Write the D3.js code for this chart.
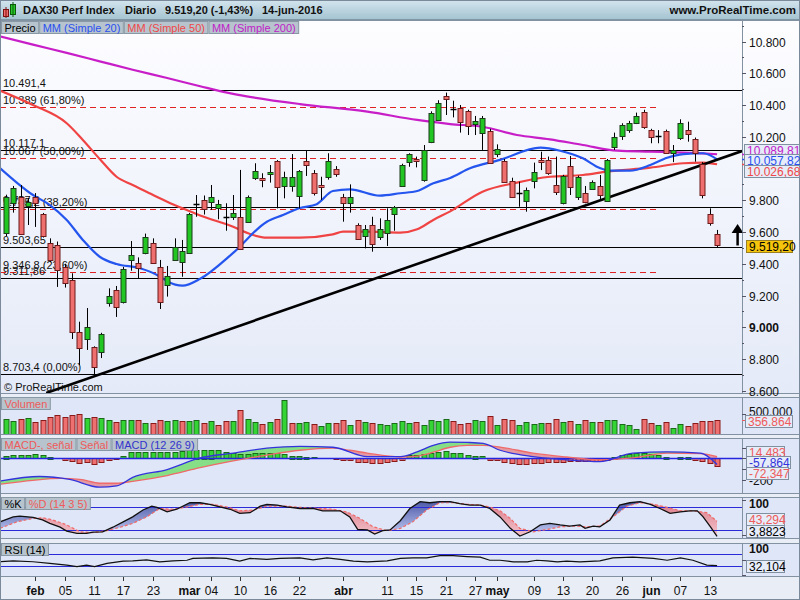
<!DOCTYPE html>
<html><head><meta charset="utf-8">
<script src="https://cdn.jsdelivr.net/npm/d3@7"></script>
<style>body{margin:0;background:#fff}svg{display:block;font-family:"Liberation Sans",Arial,sans-serif}</style>
</head><body><svg id="c" width="800" height="600"></svg>
<script>
// ---------------- DATA ----------------
const open = [9594,9783,9819,9764,9822,9713,9533,9518,9380,9300,8970,8926,8876,8844,9153,9235,9159,9424,9407,9470,9530,9380,9266,9424,9413,9470,9772,9802,9791,9753,9692,9694,9694,9665,9942,9938,9966,10047,9890,9886,9829,10047,9970,9894,9945,9997,9822,9783,9644,9570,9644,9564,9592,9711,9890,10037,10059,9926,10165,10306,10457,10371,10379,10362,10278,10222,10236,10091,10047,9921,9844,9797,9923,10053,10053,9896,9785,10015,9822,9844,9875,9890,9797,10137,10205,10247,10289,10354,10242,10198,10236,10100,10190,10242,10185,10028,9713,9587];
const high = [9835,9890,9896,9814,9845,9720,9560,9540,9400,9340,9035,9121,8880,8965,9245,9260,9380,9543,9440,9590,9560,9424,9386,9560,9550,9720,9833,9830,9896,9802,9781,9833,9991,9830,10033,9970,10022,10053,9980,10091,9990,10112,9990,9948,10096,10015,9840,9900,9655,9644,9696,9686,9749,9764,10030,10096,10075,10148,10360,10430,10478,10427,10400,10370,10331,10331,10250,10152,10060,9942,9917,9880,10037,10106,10075,10075,9960,10079,9955,9890,9925,9959,10060,10226,10285,10300,10352,10370,10250,10242,10245,10148,10310,10295,10195,10040,9749,9613];
const low = [9575,9722,9585,9644,9632,9565,9410,9254,9250,8926,8762,8857,8703,8806,9130,9065,9150,9356,9310,9460,9400,9115,9193,9424,9318,9465,9696,9710,9739,9680,9608,9676,9490,9660,9928,9882,9911,9749,9812,9854,9749,9953,9830,9802,9930,9948,9665,9722,9550,9497,9476,9550,9512,9608,9885,10011,10007,9917,10160,10300,10337,10322,10226,10211,10211,10117,10030,10071,9910,9815,9759,9728,9875,9990,9960,9833,9774,9833,9802,9781,9865,9802,9790,10117,10180,10225,10280,10250,10159,10159,10095,10040,10180,10169,10043,9812,9640,9505];
const close = [9822,9877,9588,9791,9785,9575,9424,9360,9279,8972,8869,9002,8752,8957,9197,9128,9367,9455,9373,9570,9405,9160,9322,9505,9482,9713,9778,9743,9822,9776,9688,9719,9493,9822,9984,9923,9978,9886,9946,9944,9984,10022,9844,9882,10047,9963,9787,9820,9554,9617,9522,9617,9676,9756,10022,10090,10044,10117,10348,10415,10436,10373,10289,10268,10299,10316,10037,10121,9917,9822,9846,9865,9980,10043,9970,9854,9952,9882,9948,9785,9917,9833,10053,10200,10274,10289,10331,10260,10200,10203,10100,10117,10285,10215,10096,9833,9657,9519.20];
// volume in thousands
const volume = [373,333,373,397,301,349,420,468,420,476,492,397,436,397,349,301,349,349,349,286,278,349,333,349,325,325,349,278,325,230,325,325,587,373,301,254,301,373,825,278,294,301,254,206,278,278,349,230,349,301,278,254,246,278,341,278,301,230,349,325,373,325,254,278,349,325,452,230,373,349,230,301,254,278,278,373,301,325,254,349,301,301,349,349,254,230,135,373,278,230,301,159,254,206,278,325,325,356.864];
// MACD histogram (MACD - signal)
const macdHist = [24,30,30,30,36,30,15,0,-15,-30,-51,-39,-60,-39,-21,-9,21,60,60,60,60,60,60,60,66,75,81,81,81,75,60,51,36,36,45,51,45,45,39,24,24,15,9,0,0,-9,-15,-15,-39,-39,-51,-51,-39,-30,-15,30,30,36,51,60,66,51,45,30,24,21,-15,-15,-39,-51,-60,-60,-51,-45,-39,-39,-39,-30,-24,-30,-24,-24,-15,15,30,39,45,45,36,30,15,0,15,15,-15,-30,-51,-72.347];
// line series: [candle index, value]
const ma20 = [[-0.8,10003],[3.7,9833],[6,9770],[8.3,9676],[10.5,9550],[12.8,9444],[15.1,9398],[18.3,9372],[21,9320],[22,9290],[24.1,9262],[26.5,9305],[31,9468],[35.6,9665],[37.8,9707],[40.1,9751],[42.4,9775],[44.6,9858],[46.9,9869],[51,9829],[53.8,9844],[56.1,9858],[58.3,9907],[60.6,9940],[63.3,10001],[67.4,10054],[72.9,10131],[75.6,10112],[78.7,10064],[81,10003],[82.4,9986],[85.1,9986],[87.9,10022],[90.2,10068],[92.4,10091],[95.1,10096],[97,10057.82]];
const ma50 = [[-0.8,10491],[3.7,10400],[8.3,10285],[10.5,10180],[12.8,10060],[15.1,9948],[17.3,9896],[19.6,9844],[22,9791],[24.1,9749],[26.5,9704],[31,9633],[33.3,9587],[35.6,9564],[40.1,9564],[44.6,9585],[46,9602],[49.3,9602],[53.8,9596],[56.1,9617],[58.3,9676],[60.6,9730],[65,9854],[69.7,9911],[74.2,9948],[78.7,9959],[82,9980],[87.9,10005],[92.4,10033],[95.1,10037],[97,10026.68]];
const ma200 = [[-0.8,10833],[3.7,10780],[8.3,10728],[12.8,10675],[17.3,10622],[22,10570],[26.5,10518],[31,10470],[33.7,10448],[40.1,10406],[49.3,10358],[56.1,10306],[60.6,10280],[65,10263],[69.7,10211],[74.2,10184],[78.7,10148],[83.4,10112],[87.9,10106],[92.4,10100],[97,10089.81]];
const macdLine = [[-0.8,-213],[4.6,-170],[8.7,-197],[12.8,-270],[15.1,-258],[17.3,-179],[22,-106],[26.5,3],[31,48],[35.6,94],[40.1,112],[44.6,103],[49.3,15],[53.8,15],[56.1,60],[58.3,121],[60.6,151],[62.9,148],[65.1,139],[67.4,75],[71.9,15],[76.5,-15],[81,-31],[85.5,48],[90.2,60],[94.7,48],[97,-57.864]];
const signalLine = [[-0.8,-243],[3.7,-206],[7.4,-188],[10.1,-197],[12.8,-233],[15.1,-233],[17.3,-215],[22,-161],[26.5,-88],[31,-25],[35.6,30],[40.1,75],[44.6,94],[46.9,75],[49.3,48],[53.8,12],[56.1,21],[58.3,57],[60.6,103],[62.9,121],[65.1,121],[67.4,105],[71.9,48],[76.5,12],[81,-15],[85.5,3],[90.2,48],[94.7,44],[97,14.483]];
const stoK = [[-0.8,42],[1,55],[1.9,57],[3.7,54],[5,47],[6,38],[7.4,28],[8.3,18],[9.7,12],[11,12],[11.9,15],[13.2,16],[14.6,28],[16,42],[17.3,55],[18.7,73],[19.9,83],[20.6,80],[22,68],[23.3,75],[25.1,92],[26.5,92],[27.8,88],[29.2,81],[30.6,75],[31.9,64],[33.3,66],[34.7,83],[35.6,88],[37,86],[38.3,81],[40.1,77],[41.9,77],[43.2,71],[45.6,71],[46.9,55],[48,22],[49.3,21],[50.3,10],[51.4,19],[52.4,21],[53.8,45],[55.1,77],[56.5,95],[57.8,92],[59.2,95],[60.6,95],[61.9,90],[63.3,86],[64.7,86],[66,77],[67.4,55],[68.8,25],[70.1,5],[71.5,16],[72.9,34],[74.2,38],[75.6,34],[76.9,31],[78.3,34],[79,25],[80.1,31],[81,29],[82.4,47],[83.7,86],[85.1,92],[86.5,95],[87.9,88],[89.2,77],[90.6,64],[92,68],[93.3,71],[94.3,71],[95.1,55],[96.1,29],[97,3.8823]];
const stoD = [[-0.8,25],[1.5,42],[3.7,51],[5,53],[6.4,47],[8.3,34],[10.1,16],[11.9,14],[13.8,19],[15.6,28],[17.3,38],[19.2,55],[21,77],[22.8,75],[24.7,81],[26.5,88],[28.2,88],[30.1,81],[31.9,71],[33.7,73],[35.6,83],[38.3,83],[40.1,80],[42.8,77],[44.6,75],[46.5,68],[48.3,51],[50.1,29],[52,19],[53.8,25],[55.5,42],[57.4,73],[59.2,92],[61,92],[62.9,88],[64.7,86],[66,81],[67.4,71],[68.8,51],[70.1,25],[71.9,16],[73.8,22],[75.6,29],[77.4,31],[79.3,29],[81,31],[82.8,55],[84.7,83],[86.5,92],[88.3,88],[90.2,80],[92,71],[93.7,71],[95.6,66],[97,43.294]];
const rsi = [[-0.8,45],[1,48],[3.7,45],[6,40],[8.3,34],[9.7,29],[11,34],[12.1,29],[13.8,40],[16,47],[17.3,48],[19.2,51],[21,45],[22.8,48],[24.7,50],[25.5,56],[28.2,58],[30.1,56],[31.9,47],[33.3,56],[35.6,53],[37.4,56],[40.1,58],[41.9,51],[43.8,58],[45.6,53],[47.4,47],[49.3,45],[52,48],[53.8,56],[55.5,58],[57.4,58],[59.2,65],[61,65],[62.9,62],[64.7,60],[66,50],[67.4,50],[69.2,45],[71.1,45],[72.4,50],[73.8,48],[75.2,45],[76.5,47],[78.3,45],[81,48],[82.8,58],[85.5,60],[88.3,56],[90.2,50],[92,58],[93.7,50],[95.6,34],[97,32.104]];
// support / resistance and fibonacci levels
const levelVals = [10491.4,10117.1,9757.8,9503.65,9311.86,8703.4];
const levelText = ["10.491,4","10.117,1","9.757,8","9.503,65","9.311,86","8.703,4 (0,00%)"];
const fibVals = [10389,10067,9745.2,9346.8];
const fibText = ["10.389 (61,80%)","10.067 (50,00%)","9.745,2 (38,20%)","9.346,8 (23,60%)"];
const trendLine = [[5.5,8586],[100.4,10110]];
const arrowPts = [[99.8,9515],[99.8,9650]];
// axis ticks
const priceTicks = [8600,8800,9000,9200,9400,9600,9800,10200,10400,10600,10800];
const tickIdx = [4,8,12,16,20,25,28,32,36,40,46,52,56,60,64,67,72,76,80,84,88,92,96];
const tickText = ["feb","05","11","17","23","mar","04","10","16","22","abr","11","15","21","27","may","09","13","20","26","jun","07","13"];
const titleText = ["DAX30 Perf Index","Diario","14-jun-2016"];

// ---------------- HELPERS ----------------
const svg = d3.select("#c");
const AX = 742;
const num = (v,d) => d3.format(",."+d+"f")(v).replace(/−/g,"-").replace(/,/g,"#").replace(/\./g,",").replace(/#/g,".");
const sig5 = v => d3.format(".5~")(v).replace(/−/g,"-").replace(/\./g,",");
const thou = v => d3.format(",")(v).replace(/,/g,".");

const x = d3.scaleLinear().domain([-0.8,100.4]).range([0,AX]);
const P = {main:[20,394], vol:[397,435], macd:[438,494], sto:[497,539], rsi:[543,577]};
const yMain = d3.scaleLinear().domain([8600,10800]).range([390.75,41.5]);
const yVol = d3.scaleLinear().domain([0,900]).range([435,397.2]);
const yMacd = d3.scaleLinear().domain([-300,180]).range([490.4,439.0]);
const ySto = d3.scaleLinear().domain([0,100]).range([537.9,499.7]);
const yRsi = d3.scaleLinear().domain([0,100]).range([575.5,545]);

const defs = svg.append("defs");
const g1 = defs.append("linearGradient").attr("id","mainBg").attr("x1",0).attr("y1",0).attr("x2",0).attr("y2",1);
g1.append("stop").attr("offset","0%").attr("stop-color","#fdfdff");
g1.append("stop").attr("offset","100%").attr("stop-color","#e4eaf8");
const gh = defs.append("linearGradient").attr("id","hdr").attr("x1",0).attr("y1",0).attr("x2",0).attr("y2",1);
gh.append("stop").attr("offset","0%").attr("stop-color","#d3e5ee");
gh.append("stop").attr("offset","100%").attr("stop-color","#a6c4d2");
const gb = defs.append("linearGradient").attr("id","stoBlue").attr("x1",0).attr("y1",0).attr("x2",0).attr("y2",1);
gb.append("stop").attr("offset","0%").attr("stop-color","#3f4c9e");
gb.append("stop").attr("offset","100%").attr("stop-color","#b8c2ee");
const gp = defs.append("linearGradient").attr("id","stoPink").attr("x1",0).attr("y1",0).attr("x2",0).attr("y2",1);
gp.append("stop").attr("offset","0%").attr("stop-color","#d8707e");
gp.append("stop").attr("offset","100%").attr("stop-color","#f3c4cc");

svg.append("rect").attr("width",800).attr("height",600).attr("fill","#e9edf5");

// header
svg.append("rect").attr("x",0).attr("y",0).attr("width",800).attr("height",19).attr("fill","url(#hdr)");
svg.append("line").attr("x1",0).attr("x2",800).attr("y1",19.5).attr("y2",19.5).attr("stroke","#7f96a4");
svg.append("rect").attr("x",3.5).attr("y",9.5).attr("width",5).attr("height",7).attr("fill","#ef6a6a").attr("stroke","#7a1010");
svg.append("line").attr("x1",6).attr("x2",6).attr("y1",7).attr("y2",18).attr("stroke","#7a1010");
svg.append("rect").attr("x",10.5).attr("y",4.5).attr("width",5).attr("height",10).attr("fill","#28c828").attr("stroke","#0a5a0a");
svg.append("line").attr("x1",13).attr("x2",13).attr("y1",2).attr("y2",17).attr("stroke","#0a5a0a");
const chg = (close[close.length-1]/close[close.length-2]-1)*100;
const hdr = svg.append("text").attr("x",23).attr("y",14).attr("font-size",11).attr("font-weight","bold").attr("fill","#111");
hdr.append("tspan").text(titleText[0]);
hdr.append("tspan").attr("x",125).text(titleText[1]);
hdr.append("tspan").attr("x",165).text(num(close[close.length-1],2)+" ("+num(chg,2)+"%)");
hdr.append("tspan").attr("x",262).text(titleText[2]);
svg.append("text").attr("x",796).attr("y",14).attr("text-anchor","end").attr("font-size",11.5).attr("font-weight","bold").attr("fill","#111").text("www.ProRealTime.com");

// panels
Object.entries(P).forEach(([k,[t,b]])=>{
  svg.append("rect").attr("x",0.5).attr("y",t+0.5).attr("width",799).attr("height",b-t-1)
    .attr("fill", k==="main" ? "url(#mainBg)" : "#dfe6f7").attr("stroke","#8292a2");
  svg.append("line").attr("x1",AX+0.5).attr("x2",AX+0.5).attr("y1",t).attr("y2",b).attr("stroke","#8292a2");
  defs.append("clipPath").attr("id","clip-"+k).append("rect").attr("x",1).attr("y",t+1).attr("width",AX-1).attr("height",b-t-2);
});
svg.append("rect").attr("x",0.5).attr("y",0.5).attr("width",799).attr("height",599).attr("fill","none").attr("stroke","#7a8a9a");

// ---------- MAIN ----------
const gm = svg.append("g").attr("clip-path","url(#clip-main)");
levelVals.forEach((v,i)=>{
  const yy = Math.round(yMain(v))+0.5;
  gm.append("line").attr("x1",0).attr("x2",AX).attr("y1",yy).attr("y2",yy).attr("stroke","#000").attr("stroke-width",1.2);
});
fibVals.forEach((v,i)=>{
  const yy = Math.round(yMain(v))+0.5;
  gm.append("line").attr("x1",0).attr("x2",x(89)).attr("y1",yy).attr("y2",yy).attr("stroke","#e02222").attr("stroke-width",1.2).attr("stroke-dasharray","6,4");
});
levelVals.forEach((v,i)=>{
  gm.append("text").attr("x",3).attr("y",yMain(v)-3).attr("font-size",11).attr("fill","#111").text(levelText[i]);
});
fibVals.forEach((v,i)=>{
  gm.append("text").attr("x",3).attr("y",yMain(v)-3).attr("font-size",11).attr("fill","#111").text(fibText[i]);
});
const lineMain = d3.line().x(d=>x(d[0])).y(d=>yMain(d[1])).curve(d3.curveMonotoneX);
[[ma200,"#c81ec8"],[ma50,"#f04444"],[ma20,"#2455ee"]].forEach(([d,c])=>{
  gm.append("path").attr("d",lineMain(d)).attr("fill","none").attr("stroke",c).attr("stroke-width",2.2);
});
gm.append("path").attr("d",d3.line().x(d=>x(d[0])).y(d=>yMain(d[1]))(trendLine)).attr("stroke","#000").attr("stroke-width",2.6).attr("fill","none");
close.forEach((c,i)=>{
  const o = open[i], cx = Math.round(x(i))+0.5;
  gm.append("line").attr("x1",cx).attr("x2",cx).attr("y1",yMain(high[i])).attr("y2",yMain(low[i])).attr("stroke","#000").attr("stroke-width",1);
  const yt = yMain(Math.max(o,c)), yb = yMain(Math.min(o,c));
  if (yb-yt < 1.5) {
    gm.append("line").attr("x1",cx-3).attr("x2",cx+3).attr("y1",Math.round(yt)+0.5).attr("y2",Math.round(yt)+0.5).attr("stroke","#000").attr("stroke-width",1.5);
  } else {
    gm.append("rect").attr("x",cx-2.5).attr("y",Math.round(yt)+0.5).attr("width",5).attr("height",Math.round(yb-yt))
      .attr("fill", c>=o ? "#22c622" : "#ef6e6e").attr("stroke", c>=o ? "#1b3b1b" : "#6a1a1a").attr("stroke-width",1);
  }
});
const ax0 = x(arrowPts[0][0]);
gm.append("line").attr("x1",ax0).attr("x2",ax0).attr("y1",yMain(arrowPts[0][1])).attr("y2",yMain(arrowPts[1][1])+8).attr("stroke","#000").attr("stroke-width",2.5);
gm.append("path").attr("d",`M${ax0-6},${yMain(arrowPts[1][1])+9}L${ax0+6},${yMain(arrowPts[1][1])+9}L${ax0},${yMain(arrowPts[1][1])}Z`).attr("fill","#000");
gm.append("text").attr("x",4).attr("y",391).attr("font-size",11).attr("fill","#111").text("© ProRealTime.com");

function legend(y, items){
  let xx = 1;
  items.forEach(([t,c])=>{
    const tmp = svg.append("text").attr("font-size",11).text(t);
    const w = tmp.node().getComputedTextLength()+6; tmp.remove();
    svg.append("rect").attr("x",xx+0.5).attr("y",y+0.5).attr("width",w).attr("height",12).attr("fill","#b7c4cd").attr("stroke","#8898a4");
    svg.append("text").attr("x",xx+3.5).attr("y",y+10.5).attr("font-size",11).attr("fill",c).text(t);
    xx += w+1;
  });
}
legend(21,[["Precio","#000"],["MM (Simple 20)","#2a50f0"],["MM (Simple 50)","#f04848"],["MM (Simple 200)","#c020c8"]]);

priceTicks.forEach(v=>{
  const yy = Math.round(yMain(v))+0.5;
  svg.append("line").attr("x1",AX).attr("x2",AX+4).attr("y1",yy).attr("y2",yy).attr("stroke","#556");
  svg.append("line").attr("x1",AX).attr("x2",AX+2).attr("y1",Math.round(yMain(v+100))+0.5).attr("y2",Math.round(yMain(v+100))+0.5).attr("stroke","#556");
  svg.append("text").attr("x",749).attr("y",yy+4).attr("font-size",12).attr("fill","#111")
    .attr("font-weight", v===9000 ? "bold":"normal").text(thou(v));
});
function valBox(cx, cy, w, txt, col, fill, stroke){
  svg.append("rect").attr("x",cx+0.5).attr("y",Math.round(cy-6)+0.5).attr("width",w).attr("height",12).attr("fill",fill||"#e6ecf8").attr("stroke",stroke||"#8090a0");
  svg.append("text").attr("x",cx+3).attr("y",Math.round(cy-6)+11).attr("font-size",12).attr("fill",col).text(txt);
}
[[ma200,"#c020c8"],[ma20,"#2a50f0"],[ma50,"#f04848"]].forEach(([d,c])=>{
  const yy = Math.round(yMain(d[d.length-1][1]))+0.5;
  svg.append("line").attr("x1",AX).attr("x2",AX+5).attr("y1",yy).attr("y2",yy).attr("stroke",c).attr("stroke-width",1.5);
});
valBox(744,150,55,num(ma200[ma200.length-1][1],2),"#c020c8");
valBox(744,160,55,num(ma20[ma20.length-1][1],2),"#2a50f0");
valBox(744,170.5,55,num(ma50[ma50.length-1][1],2),"#f04848");
valBox(746,yMain(close[close.length-1])+1,46,num(close[close.length-1],2),"#000","#f5c40c","#9a8020");

// ---------- VOLUME ----------
const gv = svg.append("g").attr("clip-path","url(#clip-vol)");
volume.forEach((v,i)=>{
  const up = i===0 ? true : close[i]>=close[i-1];
  const cx = Math.round(x(i))+0.5;
  gv.append("rect").attr("x",cx-2.5).attr("y",Math.round(yVol(v))+0.5).attr("width",5).attr("height",Math.round(yVol(0)-yVol(v)))
    .attr("fill", up ? "#33d433" : "#ef7070").attr("stroke", up ? "#1a6a1a" : "#8a1a1a");
});
legend(397,[["Volumen","#ef5a5a"]]);
svg.append("line").attr("x1",AX).attr("x2",AX+4).attr("y1",Math.round(yVol(500))+0.5).attr("y2",Math.round(yVol(500))+0.5).attr("stroke","#556");
svg.append("text").attr("x",749).attr("y",yVol(500)+2).attr("font-size",12).attr("fill","#111").text(thou(500000));
svg.append("line").attr("x1",AX).attr("x2",AX+5).attr("y1",Math.round(yVol(volume[volume.length-1]))+0.5).attr("y2",Math.round(yVol(volume[volume.length-1]))+0.5).attr("stroke","#ef5a5a");
valBox(745,421,47,thou(Math.round(volume[volume.length-1]*1000)),"#ef5a5a");

// ---------- MACD ----------
const gc = svg.append("g").attr("clip-path","url(#clip-macd)");
const [mt,mb] = P.macd;
const aBelow = (d,s)=>d3.area().x(d=>x(d[0])).y0(mb).y1(d=>s(d[1])).curve(d3.curveMonotoneX)(d);
const aAbove = (d,s,top)=>d3.area().x(d=>x(d[0])).y0(d=>s(d[1])).y1(top).curve(d3.curveMonotoneX)(d);
defs.append("clipPath").attr("id","belowMacd").append("path").attr("d",aBelow(macdLine,yMacd));
defs.append("clipPath").attr("id","belowSig").append("path").attr("d",aBelow(signalLine,yMacd));
gc.append("path").attr("d",aAbove(signalLine,yMacd,mt)).attr("clip-path","url(#belowMacd)").attr("fill","#86df86");
gc.append("path").attr("d",aAbove(macdLine,yMacd,mt)).attr("clip-path","url(#belowSig)").attr("fill","#e49aa2");
macdHist.forEach((v,i)=>{
  const cx = Math.round(x(i))+0.5;
  const y0 = yMacd(0), y1 = yMacd(v);
  if (Math.abs(y1-y0) < 0.5) return;
  gc.append("rect").attr("x",cx-2.5).attr("y",Math.round(Math.min(y0,y1))+0.5).attr("width",5).attr("height",Math.max(1,Math.round(Math.abs(y1-y0))))
    .attr("fill", v>=0 ? "#33d433" : "#ef7070").attr("stroke", v>=0 ? "#1a6a1a" : "#8a1a1a");
});
gc.append("line").attr("x1",0).attr("x2",AX).attr("y1",Math.round(yMacd(0))+0.5).attr("y2",Math.round(yMacd(0))+0.5).attr("stroke","#2525e0").attr("stroke-width",1.5);
const lMacd = d3.line().x(d=>x(d[0])).y(d=>yMacd(d[1])).curve(d3.curveMonotoneX);
gc.append("path").attr("d",lMacd(signalLine)).attr("fill","none").attr("stroke","#f06a6a").attr("stroke-width",1.3);
gc.append("path").attr("d",lMacd(macdLine)).attr("fill","none").attr("stroke","#3333dd").attr("stroke-width",1.3);
legend(438,[["MACD-, señal","#ef5a5a"],["Señal","#ef5a5a"],["MACD (12 26 9)","#3333cc"]]);
[100,0,-100,-200].forEach(v=>{
  const yy = Math.round(yMacd(v))+0.5;
  svg.append("line").attr("x1",AX).attr("x2",AX+4).attr("y1",yy).attr("y2",yy).attr("stroke","#556");
});
svg.append("text").attr("x",749).attr("y",Math.round(yMacd(-200))+5).attr("font-size",12).attr("fill","#111").text(-200);
valBox(746,451.5,38,sig5(signalLine[signalLine.length-1][1]),"#ef5a5a");
valBox(746,462,44,sig5(macdLine[macdLine.length-1][1]),"#3333dd");
valBox(746,472.5,42,sig5(macdHist[macdHist.length-1]),"#ef5a5a");

// ---------- STOCHASTIC ----------
const gs = svg.append("g").attr("clip-path","url(#clip-sto)");
const [st,sb] = P.sto;
const sBelow = d=>d3.area().x(d=>x(d[0])).y0(sb).y1(d=>ySto(d[1]))(d);
const sAbove = d=>d3.area().x(d=>x(d[0])).y0(d=>ySto(d[1])).y1(st)(d);
defs.append("clipPath").attr("id","belowK").append("path").attr("d",sBelow(stoK));
defs.append("clipPath").attr("id","belowD").append("path").attr("d",sBelow(stoD));
gs.append("path").attr("d",sAbove(stoD)).attr("clip-path","url(#belowK)").attr("fill","url(#stoBlue)");
gs.append("path").attr("d",sAbove(stoK)).attr("clip-path","url(#belowD)").attr("fill","url(#stoPink)");
[80,20].forEach(v=>{
  const yy = Math.round(ySto(v))+0.5;
  gs.append("line").attr("x1",0).attr("x2",AX).attr("y1",yy).attr("y2",yy).attr("stroke","#2a2ad8").attr("stroke-width",1.2);
});
const lSto = d3.line().x(d=>x(d[0])).y(d=>ySto(d[1]));
gs.append("path").attr("d",lSto(stoD)).attr("fill","none").attr("stroke","#f06a6a").attr("stroke-width",1.2).attr("stroke-dasharray","3,2");
gs.append("path").attr("d",lSto(stoK)).attr("fill","none").attr("stroke","#111").attr("stroke-width",1.3);
legend(497,[["%K","#000"],["%D (14 3 5)","#ef5a5a"]]);
svg.append("line").attr("x1",AX).attr("x2",AX+4).attr("y1",Math.round(ySto(100))+0.5).attr("y2",Math.round(ySto(100))+0.5).attr("stroke","#556");
svg.append("text").attr("x",749).attr("y",508).attr("font-size",12).attr("font-weight","bold").attr("fill","#111").text("100");
svg.append("line").attr("x1",AX).attr("x2",AX+4).attr("y1",535.5).attr("y2",535.5).attr("stroke","#556");
valBox(746,519,38,sig5(stoD[stoD.length-1][1]),"#ef5a5a");
valBox(746,531,38,sig5(stoK[stoK.length-1][1]),"#000");

// ---------- RSI ----------
const gr = svg.append("g").attr("clip-path","url(#clip-rsi)");
[70,30].forEach(v=>{
  const yy = Math.round(yRsi(v))+0.5;
  gr.append("line").attr("x1",0).attr("x2",AX).attr("y1",yy).attr("y2",yy).attr("stroke","#2a2ad8").attr("stroke-width",1.2);
});
gr.append("path").attr("d",d3.line().x(d=>x(d[0])).y(d=>yRsi(d[1]))(rsi)).attr("fill","none").attr("stroke","#111").attr("stroke-width",1.2);
legend(543,[["RSI (14)","#000"]]);
svg.append("text").attr("x",749).attr("y",553).attr("font-size",12).attr("font-weight","bold").attr("fill","#111").text("100");
svg.append("line").attr("x1",AX).attr("x2",AX+4).attr("y1",Math.round(yRsi(50))+0.5).attr("y2",Math.round(yRsi(50))+0.5).attr("stroke","#556");
svg.append("line").attr("x1",AX).attr("x2",AX+4).attr("y1",575.5).attr("y2",575.5).attr("stroke","#556");
valBox(746,566,38,sig5(rsi[rsi.length-1][1]),"#000");

// ---------- X AXIS ----------
tickIdx.forEach((ti,k)=>{
  const cx = Math.round(x(ti))+0.5;
  svg.append("line").attr("x1",cx).attr("x2",cx).attr("y1",577).attr("y2",581).attr("stroke","#333");
  const isMonth = /^[a-z]/.test(tickText[k]);
  svg.append("text").attr("x",cx).attr("y",595).attr("text-anchor","middle").attr("font-size",12)
    .attr("font-weight", isMonth ? "bold":"normal").attr("fill","#111").text(tickText[k]);
});
</script></body></html>
